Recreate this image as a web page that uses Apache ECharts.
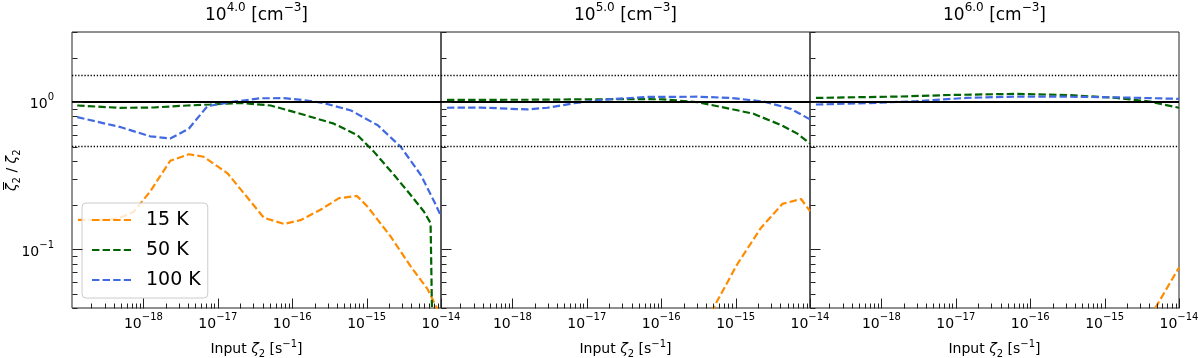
<!DOCTYPE html>
<html>
<head>
<meta charset="utf-8">
<script src="https://cdn.jsdelivr.net/npm/echarts@6/dist/echarts.min.js"></script>
<style>
html, body { margin: 0; padding: 0; background: #fff; }
#chart { width: 1200px; height: 358px; }
</style>
</head>
<body>
<div id="chart"></div>
<script>
// panel densities (exponent of n [cm^-3]) and temperature curves
var panel_exp = ['4.0', '5.0', '6.0'];
var temps = ['15 K', '50 K', '100 K'];
var colors = ['#ff8c00', '#006400', '#4169e1'];

// x: log10 of input zeta_2 [s^-1], y: ratio zeta_bar / zeta
var n4_15K_x = [-18.88, -18.58, -18.34, -18.13, -17.91, -17.64, -17.39, -17.19, -16.87, -16.54, -16.38, -16.11, -15.89, -15.62, -15.37, -15.13, -14.99, -14.68, -14.41, -14.18, -14.0];
var n4_15K_y = [0.159, 0.158, 0.162, 0.18, 0.247, 0.40, 0.443, 0.426, 0.329, 0.206, 0.164, 0.149, 0.158, 0.186, 0.223, 0.231, 0.196, 0.123, 0.077, 0.0537, 0.035];
var n4_50K_x = [-18.89, -18.31, -17.86, -17.41, -17.10, -16.69, -16.29, -15.89, -15.44, -15.12, -14.90, -14.63, -14.41, -14.23, -14.14, -14.08];
var n4_50K_y = [0.95, 0.916, 0.921, 0.95, 0.965, 0.99, 0.95, 0.835, 0.715, 0.596, 0.46, 0.32, 0.235, 0.181, 0.151, 0.002];
var n4_100K_x = [-18.89, -18.31, -17.91, -17.64, -17.39, -17.14, -16.83, -16.43, -16.11, -15.80, -15.57, -15.21, -14.85, -14.54, -14.27, -14.07, -14.0];
var n4_100K_y = [0.792, 0.678, 0.587, 0.567, 0.661, 0.94, 1.0, 1.064, 1.065, 1.027, 0.985, 0.879, 0.697, 0.497, 0.32, 0.201, 0.168];

var n5_15K_x = [-15.47, -15.27, -14.98, -14.66, -14.37, -14.12, -14.0];
var n5_15K_y = [0.028, 0.0425, 0.079, 0.14, 0.204, 0.22, 0.182];
var n5_50K_x = [-18.88, -17.76, -16.41, -15.97, -15.51, -15.07, -14.76, -14.39, -14.17, -14.0];
var n5_50K_y = [1.037, 1.04, 1.05, 1.047, 1.0, 0.902, 0.835, 0.70, 0.612, 0.524];
var n5_100K_x = [-18.88, -18.43, -17.80, -17.53, -17.17, -16.77, -16.19, -15.51, -15.07, -14.62, -14.26, -14.0];
var n5_100K_y = [0.917, 0.92, 0.893, 0.917, 0.985, 1.04, 1.087, 1.09, 1.07, 1.01, 0.902, 0.765];

var n6_15K_x = [-14.46, -14.30, -14.0];
var n6_15K_y = [0.030, 0.0415, 0.0753];
var n6_50K_x = [-18.88, -17.75, -17.08, -16.18, -15.51, -14.84, -14.39, -14.0];
var n6_50K_y = [1.07, 1.093, 1.12, 1.14, 1.12, 1.07, 1.01, 0.917];
var n6_100K_x = [-18.88, -18.20, -17.53, -16.86, -16.18, -15.51, -14.84, -14.0];
var n6_100K_y = [0.965, 0.985, 1.016, 1.07, 1.093, 1.09, 1.08, 1.054];

// axis ranges and ticks
var x_lo = -18.96, x_hi = -14;
var y_lo = 0.04, y_hi = 3;
var x_label_exp = [-18, -17, -16, -15, -14];
var x_decades = [-19, -18, -17, -16, -15];
var minor_mant = [2, 3, 4, 5, 6, 7, 8, 9];
var y_label_exp = [-1, 0];
var y_major = [0.1, 1];
var y_minor = [0.04, 0.05, 0.06, 0.07, 0.08, 0.09, 0.2, 0.3, 0.4, 0.5, 0.6, 0.7, 0.8, 0.9, 2, 3];
var ref_solid = [1];
var ref_dotted = [0.5, 1.5];

var panels = [
    [[n4_15K_x, n4_15K_y], [n4_50K_x, n4_50K_y], [n4_100K_x, n4_100K_y]],
    [[n5_15K_x, n5_15K_y], [n5_50K_x, n5_50K_y], [n5_100K_x, n5_100K_y]],
    [[n6_15K_x, n6_15K_y], [n6_50K_x, n6_50K_y], [n6_100K_x, n6_100K_y]]
];

var FONT = 'DejaVu Sans';
var gridLeft = [72, 441, 810];
var gridW = 369, gridTop = 32, gridH = 276;

var tickRich = {
    b: {fontFamily: FONT, fontSize: 14, lineHeight: 19, verticalAlign: 'bottom', color: '#000'},
    s: {fontFamily: FONT, fontSize: 10, lineHeight: 11, verticalAlign: 'top', color: '#000'}
};
var nameRich = {
    t: {fontFamily: FONT, fontSize: 14, lineHeight: 20, verticalAlign: 'middle', color: '#000', fill: '#000'},
    i: {fontFamily: FONT, fontSize: 14, fontStyle: 'italic', lineHeight: 20, verticalAlign: 'middle', color: '#000', fill: '#000'},
    sub: {fontFamily: FONT, fontSize: 10, lineHeight: 13, verticalAlign: 'bottom', color: '#000', fill: '#000'},
    sup: {fontFamily: FONT, fontSize: 10, lineHeight: 11, verticalAlign: 'top', color: '#000', fill: '#000'}
};
var titleRich = {
    b: {fontFamily: FONT, fontSize: 17, lineHeight: 22, verticalAlign: 'bottom', fill: '#000', color: '#000'},
    s: {fontFamily: FONT, fontSize: 12, lineHeight: 13, verticalAlign: 'top', fill: '#000', color: '#000'}
};

function powLabel(v) {
    var e = Math.round(v);
    if (Math.abs(v - e) > 1e-6) return '';
    return '{b|10}{s|' + (e < 0 ? '\u2212' + (-e) : e) + '}';
}

function pairs(xs, ys) {
    return xs.map(function (x, k) { return [x, Math.log10(ys[k])]; });
}

function renderTick(params, api) {
    var p = api.coord([api.value(0), api.value(1)]);
    var len = api.value(2);
    var horiz = api.value(3) === 1;
    var x = Math.round(p[0]) + 0.5, y = Math.round(p[1]) + 0.5;
    return {
        type: 'line',
        shape: {x1: x, y1: y, x2: horiz ? x + len : x, y2: horiz ? y : y - len},
        style: {stroke: '#222', lineWidth: 1}
    };
}

// tick positions: majors and minors on bottom and left
var tickData = [];
x_label_exp.forEach(function (e) { tickData.push([e, Math.log10(y_lo), 10, 0]); });
x_decades.forEach(function (n) {
    minor_mant.forEach(function (m) {
        var e = n + Math.log10(m);
        if (e > x_lo && e < x_hi) tickData.push([e, Math.log10(y_lo), 5, 0]);
    });
});
y_major.forEach(function (v) { tickData.push([x_lo, Math.log10(v), 10, 1]); });
y_minor.forEach(function (v) { tickData.push([x_lo, Math.log10(v), 5, 1]); });

var grids = [], xAxes = [], yAxes = [], series = [], graphics = [];
for (var i = 0; i < 3; i++) {
    grids.push({left: gridLeft[i], top: gridTop, width: gridW, height: gridH,
        outerBoundsMode: 'none', containLabel: false,
        show: true, borderColor: '#222', borderWidth: 1, backgroundColor: 'transparent'});
    xAxes.push({
        gridIndex: i, type: 'value', min: x_lo, max: x_hi, splitNumber: 5,
        axisLine: {show: false}, axisTick: {show: false}, splitLine: {show: false},
        axisLabel: {customValues: x_label_exp, margin: 4, formatter: powLabel, rich: tickRich},
        name: '{t|Input }{i|\u03B6}{sub|2}{t| [s}{sup|\u22121}{t|]}',
        nameLocation: 'middle', nameGap: 31, nameTextStyle: {rich: nameRich}
    });
    yAxes.push({
        gridIndex: i, type: 'value', min: Math.log10(y_lo), max: Math.log10(y_hi), splitNumber: 2,
        axisLine: {show: false}, axisTick: {show: false}, splitLine: {show: false},
        axisLabel: {show: i === 0, customValues: y_label_exp, margin: 18, formatter: powLabel, rich: tickRich}
    });

    var refs = [];
    ref_solid.forEach(function (v) {
        refs.push({yAxis: Math.log10(v), lineStyle: {color: '#000', width: 2, type: 'solid'}});
    });
    ref_dotted.forEach(function (v) {
        refs.push({yAxis: Math.log10(v), lineStyle: {color: '#000', width: 1.3, type: [1.3, 1.8]}});
    });
    series.push({
        type: 'line', name: 'ref' + i, xAxisIndex: i, yAxisIndex: i, data: [], z: 2,
        markLine: {silent: true, symbol: 'none', label: {show: false}, animation: false, data: refs}
    });

    panels[i].forEach(function (c, k) {
        series.push({
            type: 'line', name: temps[k], xAxisIndex: i, yAxisIndex: i, z: 3,
            data: pairs(c[0], c[1]), symbol: 'none', clip: true,
            lineStyle: {color: colors[k], width: 2.2, type: [7.4, 3.2]},
            itemStyle: {color: colors[k]}
        });
    });

    series.push({
        type: 'custom', name: 'ticks' + i, xAxisIndex: i, yAxisIndex: i, z: 5,
        silent: true, encode: {x: 0, y: 1}, data: tickData, renderItem: renderTick
    });

    graphics.push({
        type: 'text', x: gridLeft[i] + gridW / 2, y: 13,
        style: {
            text: '{b|10}{s|' + panel_exp[i] + '}{b| [cm}{s|\u22123}{b|]}',
            rich: titleRich, align: 'center', verticalAlign: 'middle', fill: '#000'
        }
    });
}

// y axis title, rotated, with a bar over the first zeta
graphics.push({
    type: 'group', x: 12, y: gridTop + gridH / 2, rotation: Math.PI / 2,
    children: [
        {type: 'text', x: -21, y: 0, style: {
            text: '{i|\u03B6}{sub|2}{t| / }{i|\u03B6}{sub|2}', rich: nameRich,
            align: 'left', verticalAlign: 'middle', fill: '#000'}},
        {type: 'line', shape: {x1: -20, y1: -8.5, x2: -12, y2: -8.5},
            style: {stroke: '#000', lineWidth: 1}}
    ]
});

var chart = echarts.init(document.getElementById('chart'));
chart.setOption({
    animation: false,
    backgroundColor: '#fff',
    grid: grids,
    xAxis: xAxes,
    yAxis: yAxes,
    legend: {
        data: temps, orient: 'vertical', left: 82, top: 203,
        itemWidth: 39, itemHeight: 20, itemGap: 10,
        padding: [7, 7, 8, 9], selectedMode: false,
        itemStyle: {opacity: 0},
        backgroundColor: 'rgba(255,255,255,0.8)', borderColor: '#cccccc', borderWidth: 1, borderRadius: 4,
        textStyle: {fontFamily: FONT, fontSize: 19, lineHeight: 20, color: '#000', padding: [0, 0, 0, 10]}
    },
    graphic: graphics,
    series: series
});
</script>
</body>
</html>
